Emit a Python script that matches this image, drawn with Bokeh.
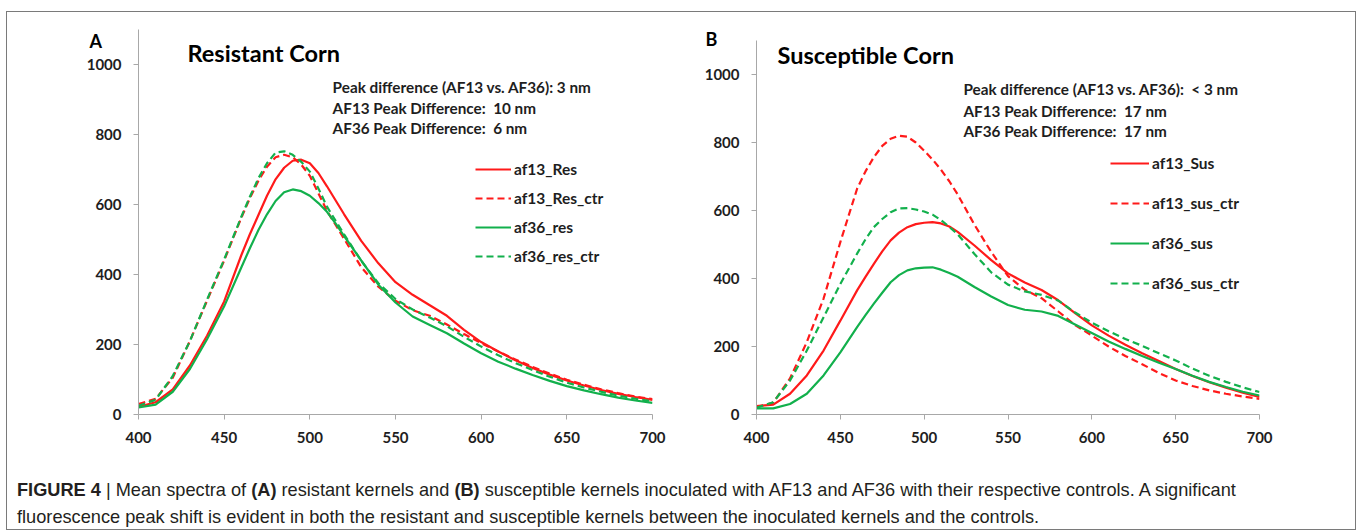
from bokeh.plotting import figure
from bokeh.layouts import row, column
from bokeh.models import Range1d, FixedTicker, Label, Legend, LegendItem, Div, Title
from bokeh.embed import file_html
from bokeh.resources import INLINE

# ---------------- data ----------------
wavelength = [400, 410, 420, 430, 440, 450, 460, 465, 470, 475, 480, 485, 490, 495, 500,
              505, 510, 515, 520, 530, 540, 550, 560, 570, 580, 590, 600, 610, 620, 630,
              640, 650, 660, 670, 680, 690, 700]

# Panel A - resistant corn
af13_Res = [22, 35, 72, 140, 225, 323, 455, 515, 570, 625, 672, 705, 725, 728, 718,
            690, 652, 612, 572, 496, 432, 378, 342, 312, 282, 242, 207, 180, 155, 133,
            114, 97, 83, 70, 59, 50, 42]
af13_Res_ctr = [30, 45, 105, 210, 325, 440, 562, 618, 668, 708, 735, 742, 735, 714, 682,
                632, 582, 542, 502, 421, 365, 325, 298, 282, 257, 230, 204, 180, 157, 136,
                117, 99, 85, 72, 61, 51, 44]
af36_res = [20, 28, 65, 130, 215, 309, 420, 475, 527, 572, 610, 635, 643, 638, 625,
            604, 579, 546, 510, 440, 371, 320, 280, 256, 232, 203, 175, 151, 131, 113,
            96, 81, 69, 58, 48, 40, 33]
af36_res_ctr = [25, 42, 110, 210, 328, 443, 565, 622, 675, 718, 748, 752, 742, 722, 694,
                646, 594, 554, 515, 439, 375, 330, 300, 277, 252, 222, 194, 169, 147, 127,
                108, 91, 77, 65, 54, 45, 38]

# Panel B - susceptible corn
af13_Sus = [25, 29, 61, 115, 188, 276, 365, 405, 443, 480, 512, 535, 551, 560, 564,
            566, 562, 553, 537, 497, 454, 415, 388, 366, 336, 298, 262, 232, 205, 180,
            157, 134, 113, 95, 79, 64, 52]
af13_sus_ctr = [22, 35, 106, 213, 341, 507, 664, 715, 757, 790, 811, 820, 817, 800, 776,
                750, 720, 686, 647, 558, 478, 407, 367, 342, 303, 263, 232, 200, 172, 148,
                122, 100, 84, 71, 61, 53, 46]
af36_sus = [18, 18, 31, 61, 115, 183, 257, 292, 326, 358, 389, 410, 424, 430, 432,
            433, 426, 416, 405, 375, 347, 322, 308, 303, 290, 265, 240, 215, 193, 172,
            152, 134, 114, 96, 81, 67, 56]
af36_sus_ctr = [20, 36, 100, 188, 286, 384, 473, 515, 551, 575, 595, 606, 607, 603, 597,
                588, 572, 552, 530, 472, 418, 382, 362, 352, 335, 300, 270, 245, 222, 202,
                180, 159, 135, 114, 96, 80, 66]

x_ticks = [400, 450, 500, 550, 600, 650, 700]
y_ticks = [0, 200, 400, 600, 800, 1000]

NB = "\u00a0"
panel_A = {"letter": "A", "title": "Resistant Corn",
           "notes": ["Peak difference (AF13 vs. AF36): 3 nm",
                     "AF13 Peak Difference:" + NB + " 10 nm",
                     "AF36 Peak Difference:" + NB + " 6 nm"],
           "series": [("af13_Res", af13_Res), ("af13_Res_ctr", af13_Res_ctr),
                      ("af36_res", af36_res), ("af36_res_ctr", af36_res_ctr)]}
panel_B = {"letter": "B", "title": "Susceptible Corn",
           "notes": ["Peak difference (AF13 vs. AF36):" + NB + " < 3 nm",
                     "AF13 Peak Difference:" + NB + " 17 nm",
                     "AF36 Peak Difference:" + NB + " 17 nm"],
           "series": [("af13_Sus", af13_Sus), ("af13_sus_ctr", af13_sus_ctr),
                      ("af36_sus", af36_sus), ("af36_sus_ctr", af36_sus_ctr)]}

RED = "#ff1a1a"
GREEN = "#12b04c"
FONT = "Lato"
AXIS_COL = "#a8a8a8"
TXT = "#1e1e1e"
styles = [(RED, "solid"), (RED, "7 4"), (GREEN, "solid"), (GREEN, "7 4")]


def make_panel(panel, fw, fh, ml, mr, mt, mb, geo):
    p = figure(frame_width=fw, frame_height=fh, x_range=Range1d(400, 700), y_range=Range1d(0, 1100),
               output_backend="svg", toolbar_location=None,
               min_border_left=ml, min_border_right=mr, min_border_top=mt, min_border_bottom=mb)
    p.title = Title(text=panel["letter"], align="left", offset=geo["letter_off"],
                    standoff=geo["letter_standoff"], text_font=FONT, text_font_style="bold",
                    text_font_size="18px", text_color="#000000")
    p.outline_line_color = None
    p.xgrid.visible = False
    p.ygrid.visible = False
    for ax, ticks in ((p.xaxis[0], x_ticks), (p.yaxis[0], y_ticks)):
        ax.ticker = FixedTicker(ticks=ticks)
        ax.axis_line_color = AXIS_COL
        ax.axis_line_width = 1
        ax.major_tick_line_color = AXIS_COL
        ax.major_tick_out = 5
        ax.major_tick_in = 0
        ax.minor_tick_line_color = None
        ax.major_label_text_font = FONT
        ax.major_label_text_font_style = "bold"
        ax.major_label_text_font_size = "15px"
        ax.major_label_text_color = TXT
        ax.major_label_standoff = 12

    items = []
    for (name, ys), (col, dash) in zip(panel["series"], styles):
        r = p.line(wavelength, ys, line_color=col, line_width=2.2, line_dash=dash)
        items.append(LegendItem(label=name, renderers=[r]))

    leg = Legend(items=items, location=geo["leg_loc"], glyph_width=geo["glyph_w"], glyph_height=20,
                 label_height=20, label_standoff=3, spacing=geo["spacing"], padding=0, margin=0,
                 border_line_alpha=0, background_fill_alpha=0,
                 label_text_font=FONT, label_text_font_style="bold", label_text_font_size="15.5px",
                 label_text_color=TXT)
    p.add_layout(leg)

    p.add_layout(Label(x=geo["title"][0], y=geo["title"][1], text=panel["title"],
                       text_font=FONT, text_font_style="bold", text_font_size="23.5px",
                       text_color="#000000", text_align="left", text_baseline="middle"))
    for note, yy in zip(panel["notes"], geo["note_y"]):
        p.add_layout(Label(x=geo["note_x"], y=yy, text=note,
                           text_font=FONT, text_font_style="bold", text_font_size="15.3px",
                           text_color=TXT, text_align="left", text_baseline="middle"))
    return p


pA = make_panel(panel_A, 514, 385, 131, 28, 17, 41,
                {"leg_loc": (337, 148), "glyph_w": 36, "spacing": 9,
                 "letter_off": -49, "letter_standoff": -45, "title": (428.6, 1034),
                 "note_x": 513.3, "note_y": [937, 877, 820]})
pB = make_panel(panel_B, 503, 374, 76, 96, 28, 41,
                {"leg_loc": (354, 121), "glyph_w": 39, "spacing": 20,
                 "letter_off": -51, "letter_standoff": -18, "title": (412.5, 1056),
                 "note_x": 523.4, "note_y": [956, 894, 835]})

caption_html = (
    '<div style="font-family: \'Liberation Sans\', Arial, sans-serif; font-size: 18.2px; '
    'line-height: 27px; color: #231f20; padding: 22px 0 0 10px; white-space: nowrap;">'
    '<b>FIGURE 4</b> | Mean spectra of <b>(A)</b> resistant kernels and <b>(B)</b> susceptible '
    'kernels inoculated with AF13 and AF36 with their respective controls. A significant<br>'
    'fluorescence peak shift is evident in both the resistant and susceptible kernels between '
    'the inoculated kernels and the controls.</div>'
)
caption = Div(text=caption_html, width=1348, height=74, margin=0)

layout = column(row(column(pA, spacing=0), column(pB, spacing=0), spacing=0), caption, spacing=0,
                margin=(11, 0, 0, 6), styles={"border": "1px solid #7a7a7a"})

open("out.html", "w").write(file_html(layout, INLINE))
